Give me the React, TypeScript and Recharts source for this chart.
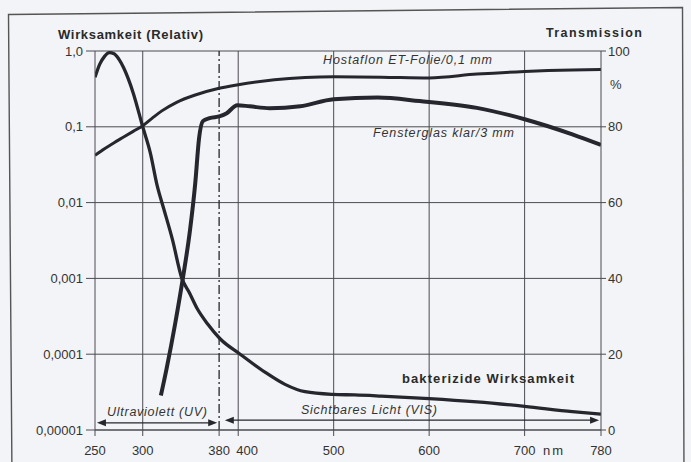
import React from "react";
import {
  ComposedChart,
  Line,
  XAxis,
  YAxis,
  CartesianGrid,
  ReferenceLine,
} from "recharts";

// ---- data ----
const xTicks = [250, 300, 380, 400, 500, 600, 700, 780];
const gridX = [300, 400, 500, 600, 700];
const uvBoundary = 380;

const leftTicks = [0.00001, 0.0001, 0.001, 0.01, 0.1, 1];
const leftTickLabels = ["0,00001", "0,0001", "0,001", "0,01", "0,1", "1,0"];
const rightTicks = [0, 20, 40, 60, 80, 100];

// bakterizide Wirksamkeit (relative, log scale)
const bactNm = [250, 255, 260, 265, 270, 275, 280, 290, 300, 308, 315, 322, 331, 341, 349, 357, 368, 381, 402, 428, 449, 470, 499, 522, 550, 600, 650, 700, 750, 780];
const bactVal = [0.45, 0.67, 0.85, 0.95, 0.92, 0.78, 0.6, 0.28, 0.1, 0.045, 0.017, 0.0083, 0.0033, 0.001, 0.00064, 0.0004, 0.00025, 0.00016, 0.0001, 0.000058, 0.00004, 0.000032, 0.0000295, 0.000029, 0.000028, 0.000026, 0.0000235, 0.0000205, 0.0000175, 0.0000162];

// Hostaflon ET-Folie/0,1 mm (transmission %)
const hostNm = [250, 260, 270, 280, 290, 300, 310, 320, 335, 355, 379, 400, 438, 470, 500, 550, 600, 650, 700, 750, 780];
const hostVal = [72.5, 74.2, 75.8, 77.3, 78.8, 80.3, 82.3, 84.2, 86.4, 88.4, 90.1, 91.1, 92.4, 93.0, 93.2, 93.1, 92.9, 93.9, 94.6, 95.0, 95.1];

// Fensterglas klar/3 mm (transmission %)
const glassNm = [319, 325, 334, 342, 349.5, 355, 359, 363, 370, 381, 388, 399, 412, 433, 465, 500, 546, 590, 650, 700, 750, 780];
const glassVal = [9.1, 16.2, 28.1, 40, 52.7, 65.1, 77, 81.5, 82.3, 82.8, 83.6, 85.7, 85.4, 84.9, 85.4, 87.3, 87.7, 86.8, 85.0, 82.0, 78.0, 75.2];

// arrow spans (nm) and their height on the transmission axis
const uvSpan = [252, 378];
const visSpan = [386, 778];
const uvArrowY = 1.9;
const visArrowY = 2.6;

const bactData = bactNm.map((nm, i) => ({ nm, v: bactVal[i] }));
const hostData = hostNm.map((nm, i) => ({ nm, v: hostVal[i] }));
const glassData = glassNm.map((nm, i) => ({ nm, v: glassVal[i] }));

const INK = "#26262e";
const GRID = "#4a4a52";
const FONT = "'Liberation Sans', Arial, Helvetica, sans-serif";

const XTick = (props: any) => {
  const { x, y, payload } = props;
  const dx = payload.value === 400 ? 9 : 0;
  return (
    <text x={x + dx} y={y} dy="0.71em" textAnchor="middle" fontSize={13} fontFamily={FONT} fill="#333">
      {payload.value}
    </text>
  );
};

const leftFormat = (v: number) => {
  const i = leftTicks.findIndex((t) => Math.abs(Math.log10(t) - Math.log10(v)) < 1e-6);
  return i >= 0 ? leftTickLabels[i] : String(v);
};

const arrowShape = (props: any) => {
  const { x1, y1, x2, y2 } = props;
  const L = 9;
  const H = 3.5;
  return (
    <g>
      <line x1={x1 + L - 1} y1={y1} x2={x2 - L + 1} y2={y2} stroke={INK} strokeWidth={1.2} />
      <polygon points={`${x1},${y1} ${x1 + L},${y1 - H} ${x1 + L},${y1 + H}`} fill={INK} />
      <polygon points={`${x2},${y2} ${x2 - L},${y2 - H} ${x2 - L},${y2 + H}`} fill={INK} />
    </g>
  );
};

export default function App() {
  return (
    <div
      style={{
        position: "absolute",
        left: 0,
        top: 0,
        width: 691,
        height: 462,
        background: "#f3f4f7",
        overflow: "hidden",
      }}
    >
      <ComposedChart width={691} height={462} margin={{ top: 51, right: 30, bottom: 10, left: 8 }}>
        <CartesianGrid vertical={false} yAxisId="left" stroke={GRID} strokeWidth={1} />
        <XAxis
          dataKey="nm"
          type="number"
          domain={[250, 780]}
          ticks={xTicks}
          allowDataOverflow
          height={22}
          tickSize={6}
          tickMargin={10}
          stroke={GRID}
          tick={<XTick />}
          interval={0}
        />
        <YAxis
          yAxisId="left"
          orientation="left"
          scale="log"
          type="number"
          domain={[0.00001, 1]}
          ticks={leftTicks}
          allowDataOverflow
          width={87}
          tickSize={9}
          tickMargin={3}
          stroke={GRID}
          tickFormatter={leftFormat}
          tick={{ fontSize: 13, fontFamily: FONT, fill: "#333" }}
          interval={0}
        />
        <YAxis
          yAxisId="right"
          orientation="right"
          type="number"
          domain={[0, 100]}
          ticks={rightTicks}
          allowDataOverflow
          width={60}
          tickSize={5}
          tickMargin={2}
          stroke={GRID}
          tick={{ fontSize: 13, fontFamily: FONT, fill: "#333" }}
          interval={0}
        />
        {gridX.map((g) => (
          <ReferenceLine key={g} x={g} yAxisId="left" stroke={GRID} strokeWidth={1} />
        ))}
        <ReferenceLine x={uvBoundary} yAxisId="left" stroke={INK} strokeWidth={1.3} strokeDasharray="9 3 2 3" />
        <ReferenceLine
          yAxisId="right"
          segment={[{ x: uvSpan[0], y: uvArrowY }, { x: uvSpan[1], y: uvArrowY }]}
          shape={arrowShape}
        />
        <ReferenceLine
          yAxisId="right"
          segment={[{ x: visSpan[0], y: visArrowY }, { x: visSpan[1], y: visArrowY }]}
          shape={arrowShape}
        />
        <Line
          data={hostData}
          dataKey="v"
          yAxisId="right"
          type="monotone"
          stroke={INK}
          strokeWidth={3}
          dot={false}
          isAnimationActive={false}
        />
        <Line
          data={glassData}
          dataKey="v"
          yAxisId="right"
          type="monotone"
          stroke={INK}
          strokeWidth={4}
          dot={false}
          isAnimationActive={false}
        />
        <Line
          data={bactData}
          dataKey="v"
          yAxisId="left"
          type="monotone"
          stroke={INK}
          strokeWidth={3.3}
          dot={false}
          isAnimationActive={false}
        />
      </ComposedChart>
      <svg
        width={691}
        height={462}
        style={{ position: "absolute", left: 0, top: 0, pointerEvents: "none" }}
        fontFamily={FONT}
      >
        <polygon points="8.5,14.5 682.5,7.5 684,480 12,480" fill="none" stroke="#555" strokeWidth={1.4} />
        <text x={58} y={39} fontSize={13} fontWeight="bold" fill="#2a2a2a" textLength={145} lengthAdjust="spacing">
          Wirksamkeit (Relativ)
        </text>
        <text x={546} y={37} fontSize={12.5} fontWeight="bold" fill="#2a2a2a" textLength={96} lengthAdjust="spacing">
          Transmission
        </text>
        <text x={610} y={89} fontSize={13} fill="#333">%</text>
        <text x={323} y={64} fontSize={12.5} fontStyle="italic" fill="#333" textLength={169} lengthAdjust="spacing">
          Hostaflon ET-Folie/0,1 mm
        </text>
        <text x={373} y={137} fontSize={12.5} fontStyle="italic" fill="#333" textLength={141} lengthAdjust="spacing">
          Fensterglas klar/3 mm
        </text>
        <text x={402} y={383} fontSize={13} fontWeight="bold" fill="#2a2a2a" textLength={172} lengthAdjust="spacing">
          bakterizide Wirksamkeit
        </text>
        <text x={107} y={416} fontSize={12.5} fontStyle="italic" fill="#333" textLength={100} lengthAdjust="spacing">
          Ultraviolett (UV)
        </text>
        <text x={301} y={414} fontSize={12.5} fontStyle="italic" fill="#333" textLength={136} lengthAdjust="spacing">
          Sichtbares Licht (VIS)
        </text>
        <text x={543} y={455} fontSize={13} fill="#333" textLength={20} lengthAdjust="spacing">
          nm
        </text>
      </svg>
    </div>
  );
}
